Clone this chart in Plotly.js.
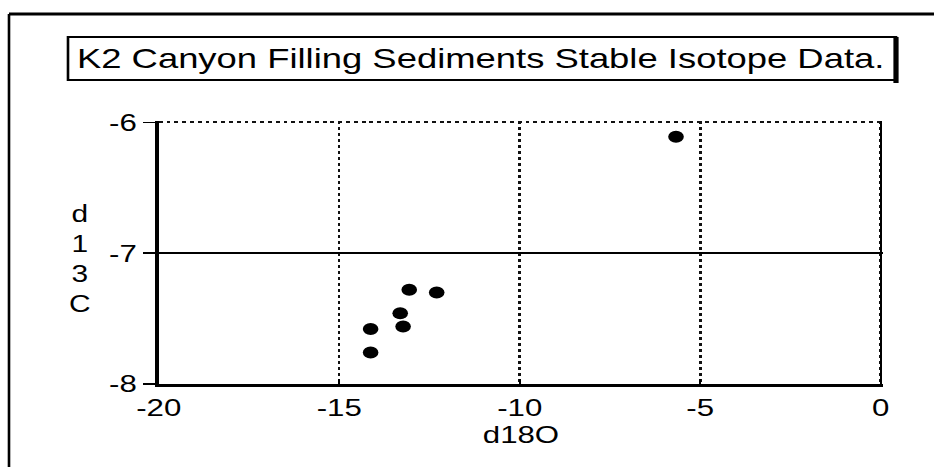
<!DOCTYPE html>
<html>
<head>
<meta charset="utf-8">
<script src="https://cdn.plot.ly/plotly-3.0.1.min.js"></script>
<style>
html,body{margin:0;padding:0;background:#fff;overflow:hidden;}
#wrap{width:718px;height:467px;transform:scaleX(1.3008);transform-origin:0 0;}
#chart{width:718px;height:467px;}
</style>
</head>
<body>
<div id="wrap"><div id="chart"></div></div>
<script>
// Data
var d18O = [-5.67, -13.06, -12.30, -13.31, -13.23, -14.13, -14.13];
var d13C = [-6.11, -7.28, -7.30, -7.46, -7.56, -7.58, -7.76];
var xTickVals = [-20, -15, -10, -5, 0];
var xTickText = ['-20', '-15', '-10', '-5', '0'];
var yTickVals = [-8, -7, -6];
var yTickText = ['-8', '-7', '-6'];
var xRange = [-20, 0.07];
var yRange = [-8, -5.99];
var titleText = 'K2 Canyon Filling Sediments Stable Isotope Data.';
var xTitle = 'd18O';
var yTitle = 'd<br>1<br>3<br>C';

var S = 1.3008, W = 718, H = 467;
var M = {l: 122, r: 39, t: 121, b: 83};
var PW = W - M.l - M.r, PH = H - M.t - M.b;
function px(fx) { return (fx / S - M.l) / PW; }
function py(fy) { return (H - M.b - fy) / PH; }

var font = 'Liberation Sans, Arial, Helvetica, sans-serif';

var traces = [
  {x: d18O, y: d13C, type: 'scatter', mode: 'markers',
   marker: {color: '#000', size: 12}, xaxis: 'x', yaxis: 'y', showlegend: false},
  {x: [], y: [], type: 'scatter', mode: 'markers', xaxis: 'x2', yaxis: 'y2', showlegend: false}
];

var layout = {
  width: W, height: H,
  margin: M,
  paper_bgcolor: '#fff', plot_bgcolor: '#fff',
  font: {family: font, color: '#000', size: 24},
  xaxis: {
    range: xRange, tickvals: xTickVals, ticktext: xTickText,
    showgrid: true, gridcolor: '#111', gridwidth: 2, griddash: 'dot',
    showline: true, linecolor: '#000', linewidth: 3,
    ticks: 'inside', ticklen: 5, tickwidth: 1.5, tickcolor: '#000',
    zeroline: false, tickfont: {size: 24, family: font},
    title: {text: xTitle, font: {size: 24, family: font}, standoff: 0}
  },
  yaxis: {
    range: yRange, tickvals: yTickVals, ticktext: yTickText,
    showgrid: true, gridcolor: '#111', gridwidth: 2, griddash: 'dot',
    showline: true, linecolor: '#000', linewidth: 3,
    ticks: 'outside', ticklen: 9, tickwidth: 1.5, tickcolor: '#000',
    zeroline: false, tickfont: {size: 24, family: font}
  },
  xaxis2: {
    overlaying: 'x', anchor: 'y2', range: xRange, tickvals: [0],
    showgrid: true, gridcolor: '#000', gridwidth: 1.5,
    showticklabels: false, ticks: '', showline: false, zeroline: false
  },
  yaxis2: {
    overlaying: 'y', anchor: 'x2', range: yRange, tickvals: [-7],
    showgrid: true, gridcolor: '#000', gridwidth: 1.5,
    showticklabels: false, ticks: '', showline: false, zeroline: false
  },
  shapes: [
    // outer frame
    {type: 'line', xref: 'paper', yref: 'paper', x0: px(9), x1: px(934), y0: py(14), y1: py(14),
     line: {color: '#000', width: 3}},
    {type: 'line', xref: 'paper', yref: 'paper', x0: px(9), x1: px(9), y0: py(14), y1: py(467),
     line: {color: '#000', width: 2}},
    // title box
    {type: 'rect', xref: 'paper', yref: 'paper', x0: px(68), x1: px(896), y0: py(37), y1: py(80),
     line: {color: '#000', width: 2}},
    {type: 'line', xref: 'paper', yref: 'paper', x0: px(896), x1: px(896), y0: py(37), y1: py(83),
     line: {color: '#000', width: 4}}
  ],
  annotations: [
    {text: titleText, xref: 'paper', yref: 'paper', x: px(481), y: py(58.5),
     xanchor: 'center', yanchor: 'middle', showarrow: false,
     font: {size: 28, family: font, color: '#000'}},
    {text: yTitle, xref: 'paper', yref: 'paper', x: px(80), y: py(259),
     xanchor: 'center', yanchor: 'middle', showarrow: false, align: 'center',
     font: {size: 23, family: font, color: '#000'}}
  ]
};

Plotly.newPlot('chart', traces, layout, {staticPlot: true, displayModeBar: false});
</script>
</body>
</html>
